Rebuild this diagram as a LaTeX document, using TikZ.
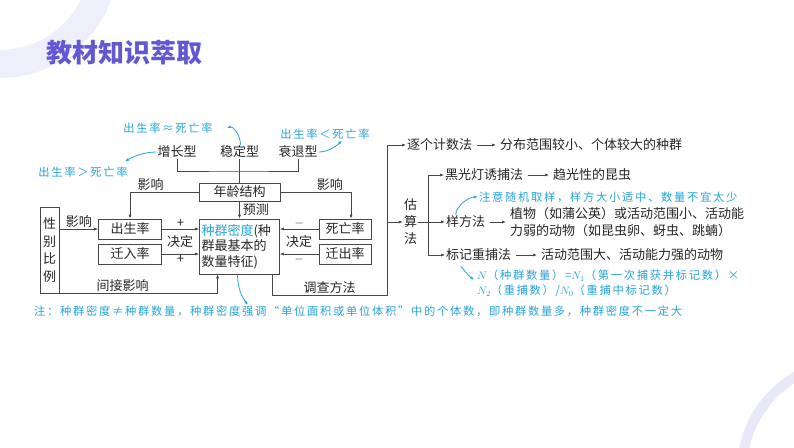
\documentclass[tikz,border=0pt]{standalone}
\usepackage{fontspec}
\newfontfamily\zhfont{Noto Sans CJK SC}
\newfontfamily\zhnote[LetterSpace=15]{Noto Sans CJK SC}
\usetikzlibrary{arrows.meta,positioning}
\definecolor{linegray}{RGB}{70,70,70}
\definecolor{notecyan}{RGB}{38,165,215}
\definecolor{titlepurple}{RGB}{98,88,214}
\definecolor{decolav}{RGB}{232,232,249}
\begin{document}
\begin{tikzpicture}[x=1pt,y=-1pt,>={Latex[length=4pt,width=3pt]},
    line/.style={draw=linegray,line width=.6pt},
    box/.style={line,inner sep=0pt,minimum height=20pt,text=black!85,font=\zhfont\fontsize{13}{15}\selectfont},
    lbl/.style={inner sep=1pt,text=black!85,font=\zhfont\fontsize{13}{15}\selectfont},
    note/.style={inner sep=1pt,text=notecyan,font=\zhnote\fontsize{11.3}{15}\selectfont},
    rarr/.style={line,->,shorten <=4pt,shorten >=3pt},
    carr/.style={draw=notecyan,line width=.8pt,->}]
    \useasboundingbox (0,0) rectangle (794,447);
    \fill[white] (0,0) rectangle (794,447);
    \fill[decolav!70,even odd rule] (0,-40) circle[radius=118pt] (0,-40) circle[radius=90pt];
    \fill[decolav,even odd rule] (850,470) circle[radius=113pt] (850,470) circle[radius=103pt];
    \node[anchor=west,inner sep=0pt,text=titlepurple,font=\zhfont\bfseries\fontsize{26}{30}\selectfont] (tt) at (46,53) {教材知识萃取};
    \node[box,minimum width=19pt,minimum height=86pt,align=center,font=\zhfont\fontsize{13}{17.5}\selectfont] (xb) at (49.5,250) {性\\别\\比\\例};
    \node[box,minimum width=63pt] (cs) at (130,229) {出生率};
    \node[box,minimum width=63pt] (qr) at (130,254) {迁入率};
    \node[box,minimum width=80pt,minimum height=55pt,text width=76pt,align=left,font=\zhfont\fontsize{13}{15.5}\selectfont] (md) at (239.5,246.5) {\textcolor{notecyan}{种群密度}(种\\群最基本的\\数量特征)};
    \node[box,minimum width=81pt,minimum height=18pt] (nl) at (239.5,192) {年龄结构};
    \node[box,minimum width=52pt] (sw) at (345,229) {死亡率};
    \node[box,minimum width=52pt] (qc) at (345,254) {迁出率};
    \node[lbl] (zz) at (177,152) {增长型};
    \node[lbl] (wd) at (239.5,152) {稳定型};
    \node[lbl] (sx) at (298,152) {衰退型};
    \coordinate (jn) at (239.5,171);
    \draw[line] (zz.south) |- (jn) -| (sx.south);
    \draw[line] (wd.south) -- (nl.north);
    \draw[line,->] (nl.west) -| (cs.north) node[lbl,pos=.35,above]{影响};
    \draw[line,->] (nl.east) -| ([xshift=6pt]sw.north) node[lbl,pos=.35,above]{影响};
    \draw[line,->] (nl.south) -- (md.north) node[lbl,midway,right,xshift=2pt]{预测};
    \draw[line,->] (xb.east |- cs.west) -- (cs.west) node[lbl,midway,above]{影响};
    \draw[line,->] (cs.east) -- (cs.east -| md.west) node[lbl,midway,above]{+};
    \draw[line,->] (qr.east) -- (qr.east -| md.west) node[lbl,midway,below]{+};
    \node[lbl] (jd1) at (180,241.5) {决定};
    \draw[line,->] (sw.west) -- (sw.west -| md.east) node[lbl,midway,above]{$-$};
    \draw[line,->] (qc.west) -- (qc.west -| md.east) node[lbl,midway,below]{$-$};
    \node[lbl] (jd2) at (299,241.5) {决定};
    \draw[line,->] (xb.south east) -| ([xshift=-22pt]md.south) node[lbl,pos=.2,above]{间接影响};
    \node[lbl,anchor=west] (zg) at (406,145) {逐个计数法};
    \node[lbl,anchor=west] (zgr) at (499,145) {分布范围较小、个体较大的种群};
    \coordinate (tb) at (387,295);
    \draw[line,->] ([xshift=32.5pt]md.south) |- (tb) node[lbl,pos=.75,above]{调查方法} |- (zg.west);
    \node[lbl,align=center,font=\zhfont\fontsize{13}{17}\selectfont] (gs) at (410.5,222) {估\\算\\法};
    \draw[line,->] (tb |- gs.west) -- (gs.west);
    \coordinate (br) at (428,222);
    \draw[line] (gs.east) -- (br);
    \node[lbl,anchor=west] (hg) at (444,175) {黑光灯诱捕法};
    \node[lbl,anchor=west] (hgr) at (552,175) {趋光性的昆虫};
    \node[lbl,anchor=west] (yf) at (445,222) {样方法};
    \node[lbl,anchor=west,align=left,font=\zhfont\fontsize{13}{17}\selectfont] (yfr) at (509,222) {植物（如蒲公英）或活动范围小、活动能\\力弱的动物（如昆虫卵、蚜虫、跳蝻）};
    \node[lbl,anchor=west] (bj) at (445,255) {标记重捕法};
    \node[lbl,anchor=west] (bjr) at (540,255) {活动范围大、活动能力强的动物};
    \draw[line,->] (br) |- (hg.west);
    \draw[line,->] (br) -- (yf.west);
    \draw[line,->] (br) |- (bj.west);
    \draw[rarr] (zg) -- (zgr);
    \draw[rarr] (hg) -- (hgr);
    \draw[rarr] (yf.east) -- (yf.east -| yfr.west);
    \draw[rarr] (bj) -- (bjr);
    \node[note] (n1) at (168,128) {出生率≈死亡率};
    \node[note] (n2) at (83,172) {出生率＞死亡率};
    \node[note] (n3) at (325,134) {出生率＜死亡率};
    \node[note,anchor=west] (n5) at (478,197) {注意随机取样，样方大小适中、数量不宜太少};
    \node[note,anchor=west,align=left] (f1) at (476,283.5) {$N$（种群数量）=$N_1$（第一次捕获并标记数）×\\$N_2$（重捕数）/$N_0$（重捕中标记数）};
    \node[note,anchor=west] (nb) at (33,311) {注：种群密度≠种群数量，种群密度强调“单位面积或单位体积”中的个体数，即种群数量多，种群密度不一定大};
    \coordinate (nbt) at (248,305);
    \draw[carr] ([xshift=1pt]wd.north) .. controls +(0,-10) and +(6,-2) .. ([xshift=13pt]n1.east);
    \draw[carr] (zz.west) .. controls +(-12,0) and +(8,-5) .. ([xshift=-4pt,yshift=4pt]n2.north east);
    \draw[carr] (sx.east) .. controls +(10,0) and +(-5,5) .. ([xshift=17pt]n3.south);
    \draw[carr] ([xshift=-10pt]yf.north) .. controls +(0,-8) and +(-10,0) .. (n5.west);
    \draw[carr] ([xshift=-18pt,yshift=-4pt]bj.south) .. controls +(4,5) and +(-5,-4) .. ([xshift=-2pt,yshift=3.5pt]f1.west);
    \draw[carr] ([xshift=-2pt]md.south) .. controls +(0,14) and +(-6,-8) .. (nbt);
\end{tikzpicture}
\end{document}
